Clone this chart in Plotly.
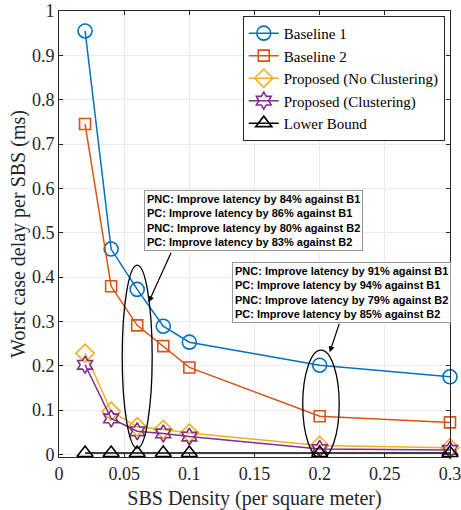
import plotly.graph_objects as go

density = [0.02, 0.04, 0.06, 0.08, 0.1, 0.2, 0.3]
baseline1 = [0.955, 0.463, 0.372, 0.289, 0.253, 0.201, 0.175]
baseline2 = [0.745, 0.379, 0.291, 0.244, 0.196, 0.086, 0.072]
proposed_nc = [0.228, 0.097, 0.062, 0.056, 0.048, 0.020, 0.015]
proposed_c = [0.202, 0.081, 0.052, 0.047, 0.040, 0.012, 0.010]
lower_bound = [0.003, 0.003, 0.003, 0.003, 0.003, 0.003, 0.003]

series = [
    ("Baseline 1", baseline1, "#0072BD", "circle-open", 14),
    ("Baseline 2", baseline2, "#D95319", "square-open", 11),
    ("Proposed (No Clustering)", proposed_nc, "#EDB120", "diamond-open", 14),
    ("Proposed (Clustering)", proposed_c, "#7E2F8E", "hexagram-open", 13),
    ("Lower Bound", lower_bound, "#000000", "triangle-up-open", 14),
]

fig = go.Figure()
for name, vals, col, sym, sz in series:
    fig.add_trace(go.Scatter(
        x=density, y=vals, name=name, mode="lines+markers",
        line=dict(color=col, width=1.5),
        marker=dict(symbol=sym, size=sz, color=col, line=dict(width=1.6, color=col)),
        cliponaxis=False,
    ))

serif = "Liberation Serif"
sans = "Liberation Sans"

box1 = ("<b>PNC: Improve latency by 84% against B1<br>PC: Improve latency by 86% against B1<br>"
        "PNC: Improve latency by 80% against B2<br>PC: Improve latency by 83% against B2</b>")
box2 = ("<b>PNC: Improve latency by 91% against B1<br>PC: Improve latency by 94% against B1<br>"
        "PNC: Improve latency by 79% against B2<br>PC: Improve latency by 85% against B2</b>")

annotations = [
    dict(text=box1, xref="paper", yref="paper", x=0.217, y=0.599, xanchor="left", yanchor="top",
         showarrow=False, align="left", font=dict(family=sans, size=11, color="black"),
         bgcolor="white", bordercolor="#999999", borderwidth=1, borderpad=2),
    dict(text=box2, xref="paper", yref="paper", x=0.443, y=0.437, xanchor="left", yanchor="top",
         showarrow=False, align="left", font=dict(family=sans, size=11, color="black"),
         bgcolor="white", bordercolor="#999999", borderwidth=1, borderpad=2),
    dict(text="", x=0.0688, y=0.343, ax=0.0865, ay=0.458, xref="x", yref="y", axref="x", ayref="y",
         showarrow=True, arrowhead=2, arrowsize=1, arrowwidth=1.2, arrowcolor="black"),
    dict(text="", x=0.2077, y=0.230, ax=0.2154, ay=0.298, xref="x", yref="y", axref="x", ayref="y",
         showarrow=True, arrowhead=2, arrowsize=1, arrowwidth=1.2, arrowcolor="black"),
]

shapes = [
    dict(type="circle", xref="x", yref="y", x0=0.0485, x1=0.0715, y0=0.014, y1=0.427,
         line=dict(color="black", width=1.3)),
    dict(type="circle", xref="x", yref="y", x0=0.187, x1=0.215, y0=-0.009, y1=0.235,
         line=dict(color="black", width=1.3)),
]

fig.update_layout(
    width=461, height=510,
    margin=dict(l=59, r=11, t=11, b=53, autoexpand=False),
    paper_bgcolor="white", plot_bgcolor="white",
    font=dict(family=serif, size=18, color="#262626"),
    showlegend=True,
    legend=dict(x=0.47, y=0.989, xanchor="left", yanchor="top",
                bgcolor="white", bordercolor="#262626", borderwidth=1,
                font=dict(family=serif, size=15, color="black"),
                tracegroupgap=0, itemwidth=30),
    annotations=annotations,
    shapes=shapes,
)
axis_common = dict(showgrid=True, gridcolor="#ebebeb", gridwidth=1, zeroline=False,
                   showline=True, linecolor="#262626", linewidth=1, mirror="ticks",
                   ticks="inside", ticklen=4, tickcolor="#262626", automargin=False,
                   ticklabeloverflow="allow",
                   tickfont=dict(family=serif, size=18, color="#262626"))
fig.update_xaxes(range=[0, 0.3], tickvals=[0, 0.05, 0.1, 0.15, 0.2, 0.25, 0.3],
                 ticktext=["0", "0.05", "0.1", "0.15", "0.2", "0.25", "0.3"],
                 title=dict(text="SBS Density (per square meter)",
                            font=dict(family=serif, size=20, color="#262626"), standoff=9),
                 **axis_common)
fig.update_yaxes(range=[-0.006, 1], tickvals=[0, 0.1, 0.2, 0.3, 0.4, 0.5, 0.6, 0.7, 0.8, 0.9, 1],
                 ticktext=["0", "0.1", "0.2", "0.3", "0.4", "0.5", "0.6", "0.7", "0.8", "0.9", "1"],
                 title=dict(text="Worst case delay per SBS (ms)",
                            font=dict(family=serif, size=20, color="#262626"), standoff=0),
                 **axis_common)

fig.write_html("out.html", config={"displayModeBar": False},
               post_script="document.body.style.margin='0';document.body.style.padding='0';")
